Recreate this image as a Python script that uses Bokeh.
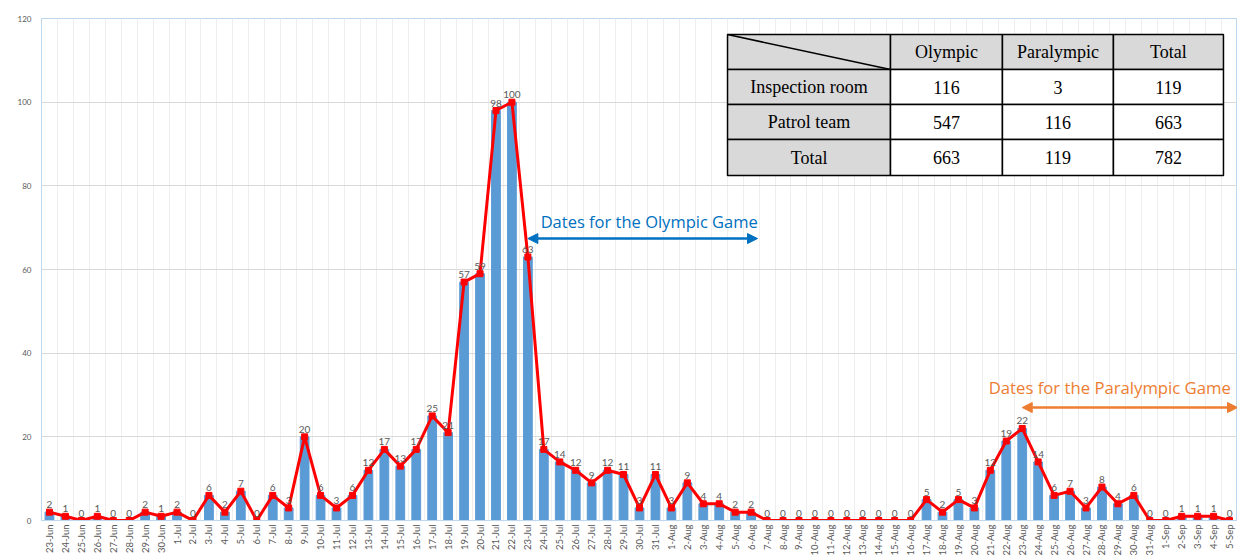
from bokeh.plotting import figure
from bokeh.models import (ColumnDataSource, FixedTicker, Arrow, NormalHead, Label)
from bokeh.core.properties import value
from bokeh.embed import file_html
from bokeh.resources import INLINE
import math

# ---------------- data ----------------
months = [("Jun", range(23, 31)), ("Jul", range(1, 32)), ("Aug", range(1, 32)), ("Sep", range(1, 6))]
dates = [f"{d}-{m}" for m, days in months for d in days]

counts = [2, 1, 0, 1, 0, 0, 2, 1,
          2, 0, 6, 2, 7, 0, 6, 3, 20, 6, 3, 6, 12, 17, 13, 17, 25, 21, 57, 59, 98, 100, 63,
          17, 14, 12, 9, 12, 11, 3, 11,
          3, 9, 4, 4, 2, 2, 0, 0, 0, 0, 0, 0, 0, 0, 0, 0,
          5, 2, 5, 3, 12, 19, 22, 14, 6, 7, 3, 8, 4, 6, 0,
          0, 1, 1, 1, 0]

y_ticks = [0, 20, 40, 60, 80, 100, 120]

olympic_label = "Dates for the Olympic Game"
paralympic_label = "Dates for the Paralympic Game"
olympic_start = "23-Jul"
paralympic_start = "23-Aug"

table_cols = ["", "Olympic", "Paralympic", "Total"]
table_rows = ["Inspection room", "Patrol team", "Total"]
table_olympic = [116, 547, 663]
table_paralympic = [3, 116, 119]
table_total = [119, 663, 782]

# ---------------- figure ----------------
n = len(dates)
x = list(range(n))
src = ColumnDataSource(dict(x=x, y=counts, lab=[str(c) for c in counts]))

p = figure(frame_width=1196, frame_height=502, x_range=(-0.5, n - 0.5), y_range=(0, 120),
           output_backend="svg", toolbar_location=None,
           min_border_left=41, min_border_top=18, min_border_right=0, min_border_bottom=0)
p.outline_line_color = "#BDD7EE"
p.background_fill_color = "white"

# grids
p.ygrid.ticker = FixedTicker(ticks=y_ticks)
p.ygrid.grid_line_color = "#d9d9d9"
p.xgrid.ticker = FixedTicker(ticks=[i + 0.5 for i in range(n)])
p.xgrid.grid_line_color = "#eeeeee"

# axes
p.yaxis.ticker = FixedTicker(ticks=y_ticks)
p.yaxis.axis_line_color = "#BDD7EE"
p.yaxis.major_tick_line_color = None
p.yaxis.major_tick_out = 0
p.yaxis.minor_tick_line_color = None
p.yaxis.major_label_text_font_size = "8px"
p.yaxis.major_label_text_color = "#595959"
p.yaxis.major_label_text_font = "Lato"
p.yaxis.major_label_standoff = 10

p.xaxis.ticker = FixedTicker(ticks=x)
p.xaxis.major_label_overrides = {i: d for i, d in enumerate(dates)}
p.xaxis.major_label_orientation = math.pi / 2
p.xaxis.major_label_text_font_size = "9.5px"
p.xaxis.major_label_text_color = "#595959"
p.xaxis.major_label_text_font = "Lato"
p.xaxis.axis_line_color = "#BDD7EE"
p.xaxis.major_tick_line_color = None
p.xaxis.major_tick_out = 0
p.xaxis.minor_tick_line_color = None
p.xaxis.major_label_standoff = 4

# bars + line
p.vbar(x="x", top="y", width=0.55, source=src, color="#5B9BD5")
p.line("x", "y", source=src, line_color="#FF0000", line_width=3)
p.scatter("x", "y", source=src, marker="square", size=6, color="#FF0000")
p.text("x", "y", text="lab", source=src, text_align="center", text_baseline="bottom",
       y_offset=-4, text_font_size="10px", text_color="#595959", text_font=value("Lato"))

# arrows
oi = dates.index(olympic_start)
p.add_layout(Arrow(x_start=oi, x_end=44.4, y_start=67.4, y_end=67.4,
                   line_color="#0070C0", line_width=2.5,
                   start=NormalHead(size=10, fill_color="#0070C0", line_color="#0070C0"),
                   end=NormalHead(size=10, fill_color="#0070C0", line_color="#0070C0")))
p.add_layout(Label(x=oi + 0.8, y=71.5, text=olympic_label, text_color="#0070C0",
                   text_font_size="16.5px", text_font="Open Sans", text_baseline="middle"))
pi_ = dates.index(paralympic_start)
p.add_layout(Arrow(x_start=pi_, x_end=n - 0.5, y_start=27.0, y_end=27.0,
                   line_color="#ED7D31", line_width=2.5,
                   start=NormalHead(size=10, fill_color="#ED7D31", line_color="#ED7D31"),
                   end=NormalHead(size=10, fill_color="#ED7D31", line_color="#ED7D31")))
p.add_layout(Label(x=58.9, y=31.9, text=paralympic_label, text_color="#ED7D31",
                   text_font_size="16.7px", text_font="Open Sans", text_baseline="middle"))

# table
col_edges = [42.52, 52.74, 59.76, 66.72, 73.62]
row_edges = [116.16, 107.8, 99.43, 91.07, 82.47]
cells = []
for r in range(4):
    for c in range(4):
        if r == 0 and c == 0:
            txt = ""
        elif r == 0:
            txt = table_cols[c]
        elif c == 0:
            txt = table_rows[r - 1]
        else:
            txt = str([table_olympic, table_paralympic, table_total][c - 1][r - 1])
        fill = "#d9d9d9" if (r == 0 or c == 0) else "white"
        cells.append(dict(l=col_edges[c], r=col_edges[c + 1], t=row_edges[r], b=row_edges[r + 1],
                          fill=fill, txt=txt,
                          cx=(col_edges[c] + col_edges[c + 1]) / 2,
                          cy=(row_edges[r] + row_edges[r + 1]) / 2))
tsrc = ColumnDataSource({k: [c[k] for c in cells] for k in cells[0]})
p.quad(left="l", right="r", top="t", bottom="b", fill_color="fill", line_color="black",
       line_width=1.5, source=tsrc)
p.text("cx", "cy", text="txt", source=tsrc, text_align="center", text_baseline="middle",
       text_font_size="18px", text_font=value("Liberation Serif"), text_color="black")
p.segment(x0=[col_edges[0]], y0=[row_edges[0]], x1=[col_edges[1]], y1=[row_edges[1]],
          line_color="black", line_width=1.5)

open("out.html", "w").write(file_html(p, INLINE))
